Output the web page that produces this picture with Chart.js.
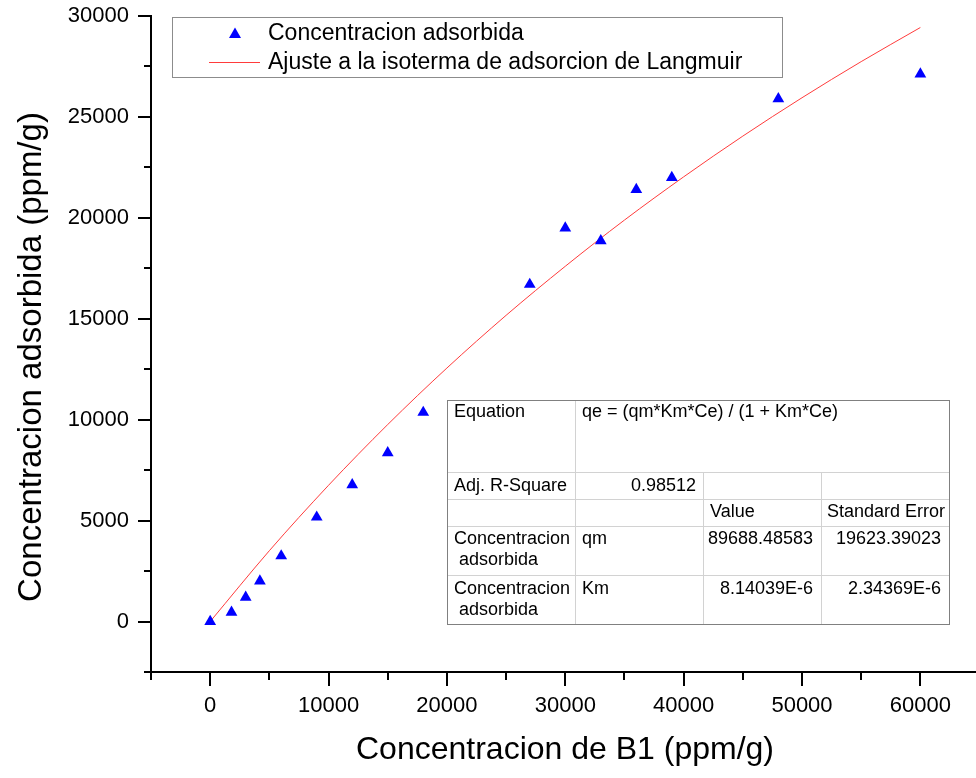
<!DOCTYPE html>
<html>
<head>
<meta charset="utf-8">
<script src="https://cdn.jsdelivr.net/npm/chart.js@4.4.1/dist/chart.umd.min.js"></script>
<style>
html,body{margin:0;padding:0;background:#fff;}
canvas{display:block;}
</style>
</head>
<body>
<canvas id="c" width="976" height="778"></canvas>
<script>
// datos medidos
const ceVals = [0, 1800, 3000, 4200, 6000, 9000, 12000, 15000, 18000, 27000, 30000, 33000, 36000, 39000, 48000, 60000];
const qeVals = [0, 460, 1200, 2000, 3250, 5170, 6770, 8360, 10360, 16700, 19490, 18860, 21400, 22000, 25900, 27120];

// curva de ajuste
const fitCe = [0, 5000, 10000, 15000, 20000, 25000, 30000, 35000, 40000, 45000, 50000, 55000, 60000];
const fitQe = [0, 3510, 6750, 9760, 12560, 15170, 17600, 19890, 22030, 24050, 25950, 27740, 29430];

const xTicks = [-5000, 0, 5000, 10000, 15000, 20000, 25000, 30000, 35000, 40000, 45000, 50000, 55000, 60000];
const yTicks = [-2500, 0, 2500, 5000, 7500, 10000, 12500, 15000, 17500, 20000, 22500, 25000, 27500, 30000];

const legendLabels = ['Concentracion adsorbida', 'Ajuste a la isoterma de adsorcion de Langmuir'];
const xTitle = 'Concentracion de B1 (ppm/g)';
const yTitle = 'Concentracion adsorbida (ppm/g)';

// tabla de resultados del ajuste
const eqLabel = 'Equation';
const eqText = 'qe = (qm*Km*Ce) / (1 + Km*Ce)';
const r2Label = 'Adj. R-Square';
const r2Value = '0.98512';
const colHeads = ['Value', 'Standard Error'];
const paramNames = ['qm', 'Km'];
const paramValues = ['89688.48583', '8.14039E-6'];
const paramErrors = ['19623.39023', '2.34369E-6'];

const FONT = '"Liberation Sans", Arial, sans-serif';
const BLUE = '#0000ff';
const RED = '#ff3b3b';

function noPad(s){
  s.paddingTop = 0; s.paddingBottom = 0; s.paddingLeft = 0; s.paddingRight = 0;
}

const extras = {
  id: 'extras',
  afterDraw(chart){
    const ctx = chart.ctx;
    const xs = chart.scales.x, ys = chart.scales.y;
    const area = chart.chartArea;
    ctx.save();

    // marcas de los ejes
    ctx.strokeStyle = '#000';
    ctx.lineWidth = 2;
    xTicks.forEach(v=>{
      const px = Math.round(xs.getPixelForValue(v));
      const len = v % 10000 === 0 ? 14 : 8;
      ctx.beginPath(); ctx.moveTo(px, area.bottom); ctx.lineTo(px, area.bottom + len); ctx.stroke();
    });
    yTicks.forEach(v=>{
      const py = Math.round(ys.getPixelForValue(v));
      const len = v % 5000 === 0 ? 13 : 7;
      ctx.beginPath(); ctx.moveTo(area.left - len, py); ctx.lineTo(area.left, py); ctx.stroke();
    });

    // titulos
    ctx.fillStyle = '#000';
    ctx.textAlign = 'center';
    ctx.textBaseline = 'middle';
    ctx.font = '32px ' + FONT;
    ctx.fillText(xTitle, 565, 750);
    ctx.font = '33px ' + FONT;
    ctx.save();
    ctx.translate(32, 357);
    ctx.rotate(-Math.PI/2);
    ctx.fillText(yTitle, 0, 0);
    ctx.restore();

    // leyenda
    ctx.fillStyle = '#fff';
    ctx.fillRect(172, 17, 610, 61);
    ctx.strokeStyle = '#8c8c8c';
    ctx.lineWidth = 1;
    ctx.strokeRect(172.5, 17.5, 610, 60);
    ctx.fillStyle = BLUE;
    ctx.beginPath();
    ctx.moveTo(235, 27.5); ctx.lineTo(241, 38); ctx.lineTo(229, 38); ctx.closePath(); ctx.fill();
    ctx.strokeStyle = RED;
    ctx.beginPath(); ctx.moveTo(209, 62.5); ctx.lineTo(260, 62.5); ctx.stroke();
    ctx.fillStyle = '#000';
    ctx.font = '23px ' + FONT;
    ctx.textAlign = 'left';
    ctx.fillText(legendLabels[0], 268, 34);
    ctx.fillText(legendLabels[1], 268, 63);

    // tabla
    const tx = [447, 575, 703, 821, 949];
    const ty = [400, 472, 499, 526, 575, 624];
    ctx.fillStyle = '#fff';
    ctx.fillRect(tx[0], ty[0], tx[4]-tx[0], ty[5]-ty[0]);
    ctx.strokeStyle = '#d2d2d2';
    ctx.lineWidth = 1;
    [1,2,3,4].forEach(i=>{
      ctx.beginPath(); ctx.moveTo(tx[0], ty[i]+0.5); ctx.lineTo(tx[4], ty[i]+0.5); ctx.stroke();
    });
    ctx.beginPath(); ctx.moveTo(tx[1]+0.5, ty[0]); ctx.lineTo(tx[1]+0.5, ty[5]); ctx.stroke();
    [2,3].forEach(i=>{
      ctx.beginPath(); ctx.moveTo(tx[i]+0.5, ty[1]); ctx.lineTo(tx[i]+0.5, ty[5]); ctx.stroke();
    });
    ctx.strokeStyle = '#808080';
    ctx.strokeRect(tx[0]+0.5, ty[0]+0.5, tx[4]-tx[0], ty[5]-ty[0]);

    ctx.fillStyle = '#000';
    ctx.font = '18px ' + FONT;
    ctx.textBaseline = 'middle';
    ctx.textAlign = 'left';
    ctx.fillText(eqLabel, 454, 412);
    ctx.fillText(eqText, 582, 412);
    ctx.fillText(r2Label, 454, 486);
    ctx.fillText(colHeads[0], 710, 512);
    ctx.fillText(colHeads[1], 827, 512);
    paramNames.forEach((p, i)=>{
      const y0 = i === 0 ? 539 : 589;
      ctx.textAlign = 'left';
      ctx.fillText('Concentracion', 454, y0);
      ctx.fillText('adsorbida', 459, y0 + 21);
      ctx.fillText(p, 582, y0);
      ctx.textAlign = 'right';
      ctx.fillText(paramValues[i], 813, y0);
      ctx.fillText(paramErrors[i], 941, y0);
    });
    ctx.textAlign = 'right';
    ctx.fillText(r2Value, 696, 486);

    ctx.restore();
  }
};

new Chart(document.getElementById('c'), {
  data: {
    datasets: [
      {
        type: 'scatter',
        label: legendLabels[0],
        data: ceVals.map((x, i) => ({x: x, y: qeVals[i]})),
        pointStyle: 'triangle',
        pointRadius: 6.8,
        pointHoverRadius: 6.8,
        backgroundColor: BLUE,
        borderColor: BLUE,
        borderWidth: 0,
        order: 1
      },
      {
        type: 'line',
        label: legendLabels[1],
        data: fitCe.map((x, i) => ({x: x, y: fitQe[i]})),
        borderColor: RED,
        borderWidth: 1,
        pointRadius: 0,
        fill: false,
        cubicInterpolationMode: 'monotone',
        order: 2
      }
    ]
  },
  options: {
    responsive: false,
    animation: false,
    devicePixelRatio: 1,
    layout: { autoPadding: false, padding: { top: 16, right: 0, bottom: 0, left: 0 } },
    plugins: { legend: { display: false }, tooltip: { enabled: false } },
    scales: {
      x: {
        type: 'linear',
        min: -5000,
        max: 64700,
        afterBuildTicks: s => { s.ticks = xTicks.map(v => ({value: v})); },
        afterFit: s => { s.height = 106; noPad(s); },
        grid: { display: false, drawTicks: false },
        border: { display: true, color: '#000', width: 2 },
        ticks: {
          color: '#000',
          font: { family: FONT, size: 22 },
          padding: 21,
          maxRotation: 0,
          autoSkip: false,
          callback: v => v % 10000 === 0 ? String(v) : ''
        }
      },
      y: {
        type: 'linear',
        min: -2500,
        max: 30000,
        afterBuildTicks: s => { s.ticks = yTicks.map(v => ({value: v})); },
        afterFit: s => { s.width = 151; noPad(s); },
        grid: { display: false, drawTicks: false },
        border: { display: true, color: '#000', width: 2 },
        ticks: {
          color: '#000',
          font: { family: FONT, size: 22 },
          padding: 22,
          autoSkip: false,
          callback: v => v % 5000 === 0 ? String(v) : ''
        }
      }
    }
  },
  plugins: [extras]
});
</script>
</body>
</html>
